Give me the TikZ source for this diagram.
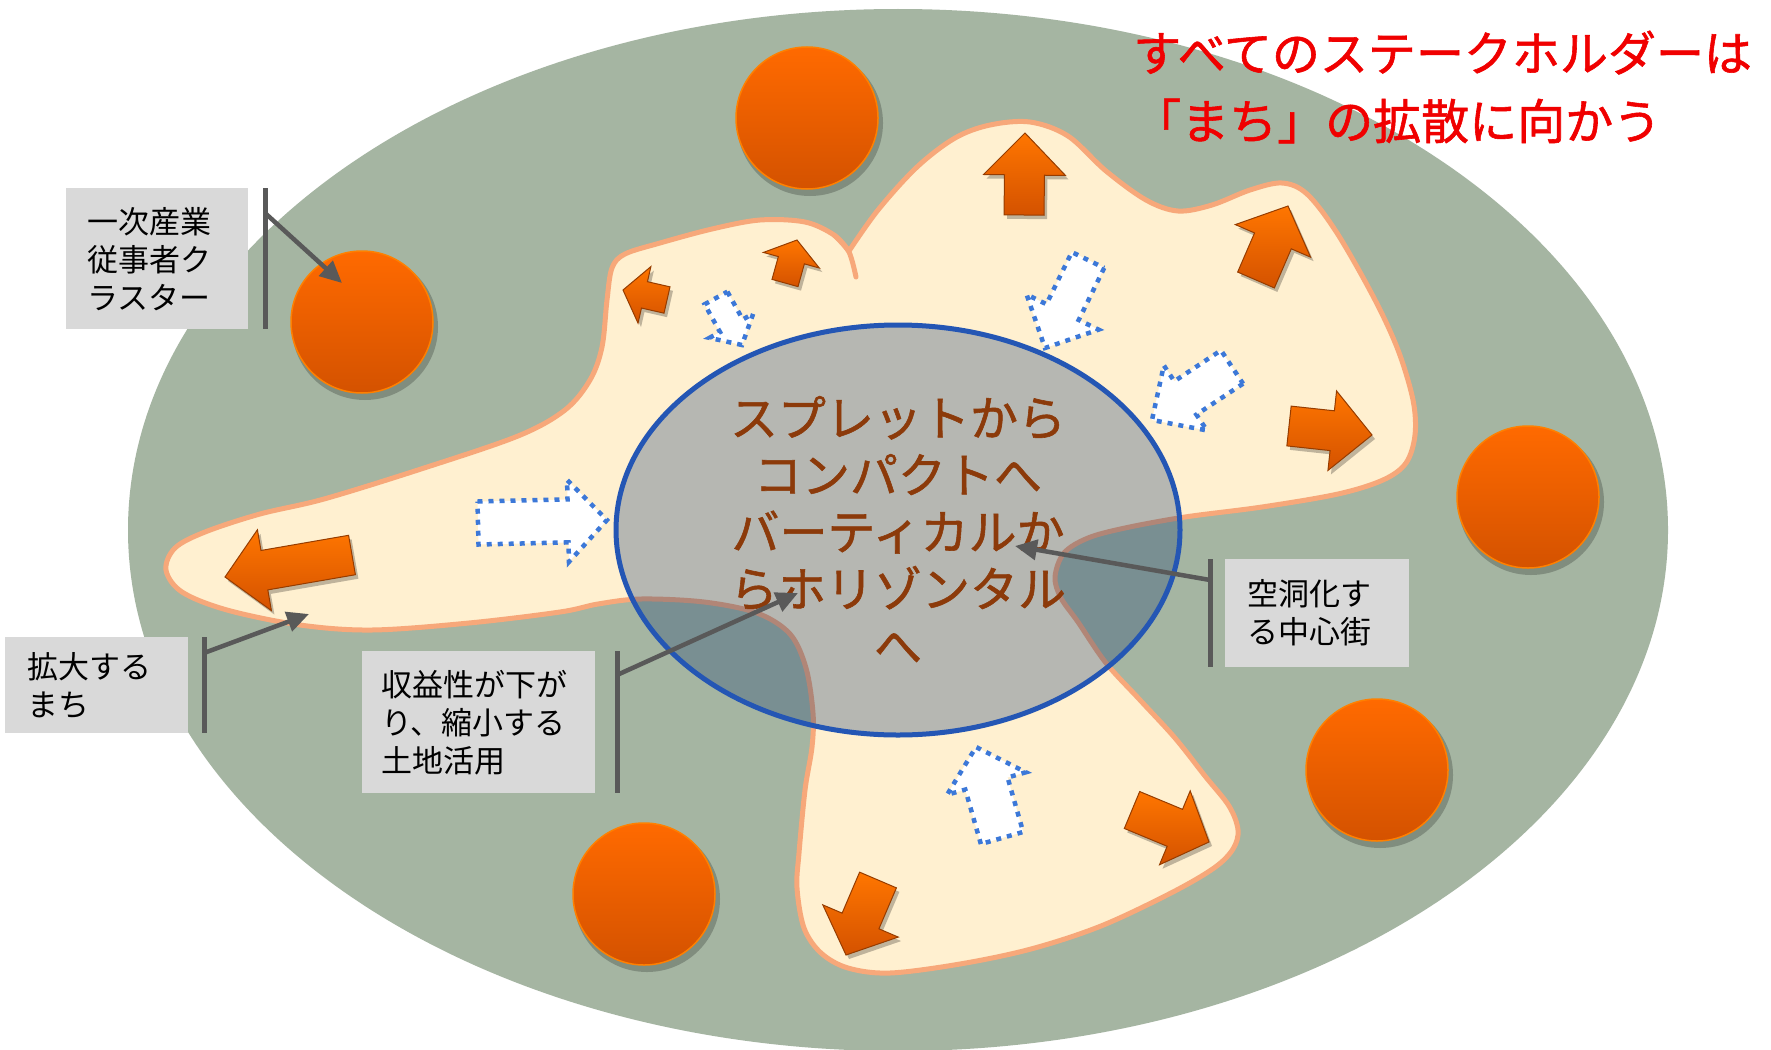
\documentclass[tikz,border=0pt]{standalone}
\usepackage{fontspec}
\newfontfamily\jp{Noto Sans CJK JP}
\newfontfamily\jpb{Noto Sans CJK JP}[FakeBold=1.2]
\usetikzlibrary{calc,arrows.meta,shapes.geometric}
\definecolor{bggreen}{RGB}{165,181,162}
\definecolor{cream}{RGB}{255,240,208}
\definecolor{salmon}{RGB}{247,168,122}
\definecolor{lblgray}{RGB}{217,217,217}
\definecolor{lnkgray}{RGB}{89,89,89}
\definecolor{ovl}{RGB}{31,63,115}
\definecolor{ringblue}{RGB}{36,86,180}
\definecolor{dotblue}{RGB}{60,120,216}
\definecolor{brownt}{RGB}{140,58,10}
\definecolor{orTop}{RGB}{255,106,0}
\definecolor{orBot}{RGB}{212,82,0}
\definecolor{orEdge}{RGB}{150,60,0}
\definecolor{titlered}{RGB}{240,0,0}
\tikzset{
 lbl/.style={fill=lblgray, anchor=north west, align=left, font=\jp\fontsize{31}{38}\selectfont, text=black, inner ysep=0pt},
 barline/.style={draw=lnkgray, line width=5pt},
 link/.style={draw=lnkgray, line width=4.5pt, -{Triangle[length=22pt,width=20pt]}},
 ball/.style={circle, minimum size=142pt, inner sep=0pt, top color=orTop, bottom color=orBot, draw=orTop!85!yellow, line width=1.5pt},
 ballshadow/.style={fill=black, opacity=0.22},
 solidarrow/.style={top color=orTop!92!yellow, bottom color=orBot, draw=orEdge, line width=1pt, line join=miter},
 arrowshadow/.style={fill=black, opacity=0.25, transform canvas={shift={(3pt,-4pt)}}},
 dotarrow/.style={fill=white, draw=dotblue, line width=4.5pt, dash pattern=on 5pt off 6pt},
 townline/.style={draw=salmon, line width=5pt, line join=round, line cap=round},
}
% style, tail, tip, shaft half width, head half width, head length
\newcommand\blockarr[6]{%
 \coordinate (ba-h) at ($(#3)!#6!(#2)$);
 \path[#1] ($(#2)!#4!90:(#3)$) -- ($(ba-h)!#4!90:(#3)$) -- ($(ba-h)!#5!90:(#3)$) -- (#3)
   -- ($(ba-h)!#5!-90:(#3)$) -- ($(ba-h)!#4!-90:(#3)$) -- ($(#2)!#4!-90:(#3)$) -- cycle;
}
\newcommand\solidarr[5]{%
 \blockarr{arrowshadow}{#1}{#2}{#3}{#4}{#5}%
 \blockarr{solidarrow}{#1}{#2}{#3}{#4}{#5}%
}
\begin{document}
\begin{tikzpicture}[x=1pt,y=-1pt]
\fill[white] (0,0) rectangle (1771,1049);
\useasboundingbox (0,0) rectangle (1771,1049);

% outer field
\node (field) [ellipse, fill=bggreen, minimum width=1540pt, minimum height=1042pt, inner sep=0pt] at (898,530) {};

% clusters (balls)
\foreach \nm/\px/\py in {cTop/807/118, cLeft/362/322, cRight/1528/497, cLowR/1377/770, cBot/644/894}{
  \fill[ballshadow] (\px+3,\py+5) circle [radius=73];
  \node[ball] (\nm) at (\px,\py) {};
}

% town shape
\path[fill=cream, townline] plot[smooth, tension=0.55] coordinates {
 (849,251) (878,210) (917,167) (955,138) (990,125) (1030,122) (1068,136) (1106,171)
 (1146,200) (1178,211) (1212,205) (1250,190) (1282,183) (1307,194) (1337,233) (1374,298)
 (1398,350) (1413,400) (1415,435) (1406,463) (1383,480) (1338,494) (1262,507) (1185,517)
 (1125,528) (1088,538) (1064,553) (1055,577) (1061,598) (1078,622) (1106,663) (1140,700)
 (1175,738) (1205,776) (1229,806) (1238,830) (1233,849) (1214,868) (1171,893) (1101,926)
 (1031,949) (960,964) (890,973) (848,968) (821,953) (804,928) (797,888) (799,853)
 (805,790) (812,747) (813,713) (806,668) (790,634) (757,613) (704,602) (641,599)
 (598,604) (560,612) (469,623) (372,630) (300,625) (227,610) (182,592) (166,570)
 (175,548) (205,532) (260,514) (324,499) (421,469) (518,436) (565,410) (590,380)
 (602,347) (607,300) (612,268) (625,254) (660,243) (712,229) (760,220) (805,222)
 (834,235) (849,251)} -- cycle;
\draw[townline] plot[smooth] coordinates {(834,235) (849,252) (856,277)};

% outward (solid) arrows
\solidarr{352,555}{225,577}{20pt}{41pt}{40pt}
\solidarr{667,300}{623,290}{13.5pt}{29pt}{22pt}
\solidarr{785,283}{797,240}{13.5pt}{29pt}{21pt}
\solidarr{1024,215}{1025,133}{20pt}{41pt}{42pt}
\solidarr{1256,280}{1288,206}{20pt}{41pt}{38pt}
\solidarr{1289,426}{1372,435}{20pt}{40pt}{40pt}
\solidarr{1132,810}{1209,842}{20pt}{40pt}{37pt}
\solidarr{878,880}{846,955}{20pt}{41pt}{37pt}

% inward (dotted) arrows
\blockarr{dotarrow}{716,298}{742,345}{13pt}{25pt}{22pt}
\blockarr{dotarrow}{478,523}{607,520}{21.5pt}{41pt}{39pt}
\blockarr{dotarrow}{1088,260}{1045,348}{18pt}{40pt}{40pt}
\blockarr{dotarrow}{1232,367}{1152,420}{20pt}{39pt}{40pt}
\blockarr{dotarrow}{1002,838}{976,747}{22pt}{41pt}{38pt}

% core
\node (core) [ellipse, draw=ringblue, line width=5pt, fill=ovl, fill opacity=0.32, text opacity=1,
  minimum width=564pt, minimum height=410pt, inner sep=0pt, align=center, text=brownt,
  font=\jpb\fontsize{48}{57}\selectfont] at (898,530)
  {スプレットから\\コンパクトへ\\バーティカルか\\らホリゾンタル\\へ};

% labels
\node[lbl, minimum width=182pt, minimum height=141pt, text width=140pt, inner xsep=21pt] (lab1) at (66,188) {一次産業\\従事者ク\\ラスター};
\node[lbl, minimum width=183pt, minimum height=96pt, text width=139pt, inner xsep=22pt] (lab2) at (5,637) {拡大する\\まち};
\node[lbl, minimum width=233pt, minimum height=142pt, text width=195pt, inner xsep=19pt] (lab3) at (362,651) {収益性が下が\\り、縮小する\\土地活用};
\node[lbl, minimum width=184pt, minimum height=108pt, text width=140pt, inner xsep=22pt] (lab4) at (1225,559) {空洞化す\\る中心街};

% bars
\coordinate (b1t) at (265,188); \coordinate (b1b) at (265,329);
\coordinate (b2t) at (204,637); \coordinate (b2b) at (204,733);
\coordinate (b3t) at (617,651); \coordinate (b3b) at (617,793);
\coordinate (b4t) at (1210,559); \coordinate (b4b) at (1210,667);
\draw[barline] (b1t) -- (b1b);
\draw[barline] (b2t) -- (b2b);
\draw[barline] (b3t) -- (b3b);
\draw[barline] (b4t) -- (b4b);

% connectors
\coordinate (s1) at (265,213); \coordinate (t1) at (342,283);
\coordinate (s2) at (204,653); \coordinate (t2) at (309,614);
\coordinate (s3) at (617,675); \coordinate (t3) at (798,593);
\coordinate (s4) at (1210,580); \coordinate (t4) at (1015,546);
\draw[link] (s1) -- (t1);
\draw[link] (s2) -- (t2);
\draw[link] (s3) -- (t3);
\draw[link] (s4) -- (t4);

% title
\node (title) [anchor=west, align=left, text=titlered, font=\jpb\fontsize{48}{68}\selectfont, inner sep=0pt]
  at (1133,87) {すべてのステークホルダーは\\「まち」の拡散に向かう};
\end{tikzpicture}
\end{document}
